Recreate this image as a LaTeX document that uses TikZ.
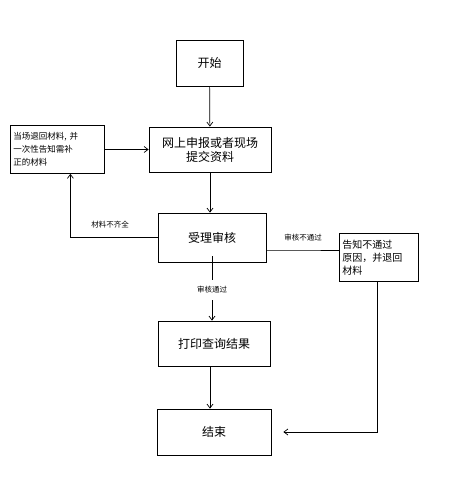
\documentclass[tikz,border=0pt]{standalone}
\usepackage{fontspec}
\setmainfont{Noto Sans CJK SC}
\usetikzlibrary{arrows.meta,positioning,calc}

\begin{document}
\begin{tikzpicture}[x=1pt, y=-1pt,
  box/.style={draw, line width=0.8pt, inner sep=2pt, font=\fontsize{12}{14}\selectfont, align=center},
  note/.style={draw, line width=0.8pt, inner sep=3pt, font=\fontsize{8.5}{13}\selectfont, align=left, anchor=north west, text width=#1},
  tag/.style={font=\fontsize{7.5}{9}\selectfont, inner sep=1pt},
  arr/.style={-{Straight Barb[length=4pt,width=6pt]}, line width=0.7pt}]
  \useasboundingbox (0,0) rectangle (451,503);
  \node[box, minimum width=67pt, minimum height=46pt] (start) at (209.5,63) {开始};
  \node[box, minimum width=122pt, minimum height=45pt] (submit) at (210,149.5) {网上申报或者现场\\提交资料};
  \node[note=88pt, minimum height=48pt] (back) at (10,125) {当场退回材料, 并\\一次性告知需补\\正的材料};
  \node[box, minimum width=108pt, minimum height=49pt] (review) at (212,237.5) {受理审核};
  \node[note=73pt, minimum height=48pt, font=\fontsize{10}{13}\selectfont] (notify) at (339,233) {告知不通过\\原因，并退回\\材料};
  \node[box, minimum width=112pt, minimum height=45pt] (print) at (214,343.5) {打印查询结果};
  \node[box, minimum width=114pt, minimum height=46pt] (finish) at (214,432) {结束};
  % labels on the connectors
  \node[tag, minimum height=20pt] (pass) at (212,290) {审核通过};
  \node[tag] at (110,225) {材料不齐全};
  \node[tag] at (303,238) {审核不通过};
  \coordinate (mid) at (303,250);
  % connectors
  \draw[arr] (start) -- (submit);
  \draw[arr] (back.east) -- (submit.west);
  \draw[arr] (submit) -- (review.north -| submit);
  \draw[arr] (review.west) -| ([xshift=13pt]back.south);
  \draw[line width=0.7pt] (review.east |- mid) -- (mid) -- (notify.west |- mid);
  \draw[line width=0.7pt] ([yshift=6pt]review.south) -- (pass.north);
  \draw[arr] (pass.south) -- (print.north -| pass);
  \draw[arr] (print.south -| submit) -- (finish.north -| submit);
  \draw[arr] ([xshift=-2pt]notify.south) |- ([xshift=12pt]finish.east);
\end{tikzpicture}
\end{document}
